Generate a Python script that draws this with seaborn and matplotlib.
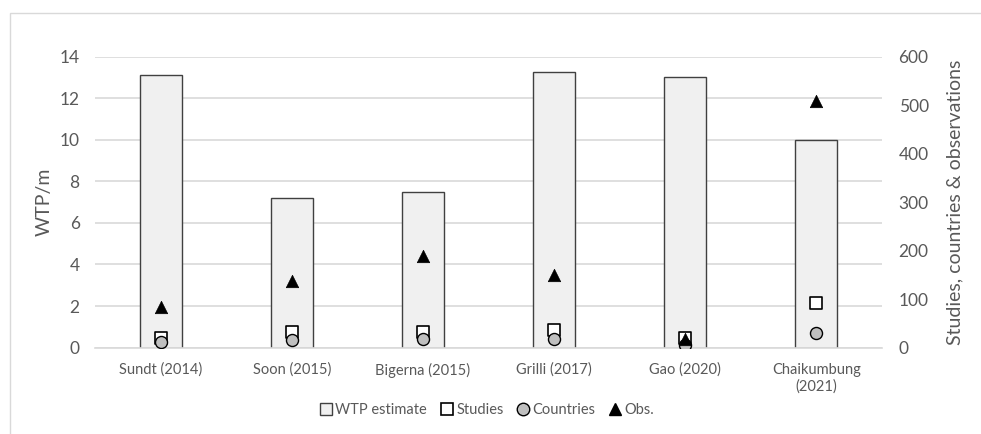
import numpy as np
import pandas as pd
import matplotlib
matplotlib.use("Agg")
import matplotlib.pyplot as plt
from matplotlib.lines import Line2D
from matplotlib.patches import Rectangle
import seaborn as sns

# data
studies_labels = ["Sundt (2014)", "Soon (2015)", "Bigerna (2015)", "Grilli (2017)",
                  "Gao (2020)", "Chaikumbung\n(2021)"]
wtp_estimate = [13.15, 7.2, 7.5, 13.3, 13.05, 10.0]
n_studies = [20, 31, 33, 37, 19, 91]
n_countries = [11, 15, 17, 17, 5, 29]
n_obs = [84, 137, 189, 150, 17, 510]

sns.set_style("white")
plt.rcParams["font.family"] = ["Lato", "DejaVu Sans"]

grey_txt = "#595959"
grid_col = "#d9d9d9"

df = pd.DataFrame({"study": studies_labels, "wtp": wtp_estimate})
pos = np.arange(len(studies_labels))

fig = plt.figure(figsize=(9.81, 4.34), dpi=100)
ax = fig.add_axes([0.0968, 0.1993, 0.8022, 0.6694])

sns.barplot(data=df, x="study", y="wtp", ax=ax, color="#f0f0f0", saturation=1,
            width=0.32, edgecolor="#404040", linewidth=1.0, zorder=2)

ax.set_ylim(0, 14)
ax.set_yticks(range(0, 15, 2))
ax.set_xlim(-0.5, len(studies_labels) - 0.5)
ax.yaxis.grid(True, color=grid_col, linewidth=1.2, zorder=0)
ax.set_axisbelow(True)
for s in ["top", "right", "left"]:
    ax.spines[s].set_visible(False)
ax.spines["bottom"].set_color(grid_col)
ax.spines["bottom"].set_linewidth(1.2)
ax.tick_params(axis="y", length=0, labelsize=12.5, labelcolor=grey_txt, pad=11)
ax.tick_params(axis="x", length=0, labelsize=10.5, labelcolor=grey_txt, pad=11)
ax.set_xlabel("")
ax.set_ylabel("WTP/m", fontsize=14, color=grey_txt, labelpad=5)

ax2 = ax.twinx()
sns.scatterplot(x=pos, y=n_studies, ax=ax2, marker="s", s=80, color="white",
                edgecolor="black", linewidth=1.2, zorder=3)
sns.scatterplot(x=pos, y=n_countries, ax=ax2, marker="o", s=75, color="#bfbfbf",
                edgecolor="black", linewidth=1.0, zorder=4)
sns.scatterplot(x=pos, y=n_obs, ax=ax2, marker="^", s=80, color="black",
                edgecolor="black", linewidth=0.5, zorder=5)
ax2.set_ylim(0, 600)
ax2.set_yticks(range(0, 601, 100))
for s in ["top", "right", "left", "bottom"]:
    ax2.spines[s].set_visible(False)
ax2.tick_params(axis="y", length=0, labelsize=12.5, labelcolor=grey_txt, pad=12)
ax2.set_ylabel("Studies, countries & observations", fontsize=14, color=grey_txt,
               labelpad=13)
ax2.set_xlim(-0.5, len(studies_labels) - 0.5)

handles = [
    Line2D([], [], marker="s", linestyle="none", markersize=9,
           markerfacecolor="#f0f0f0", markeredgecolor="#404040", markeredgewidth=1),
    Line2D([], [], marker="s", linestyle="none", markersize=9,
           markerfacecolor="white", markeredgecolor="black", markeredgewidth=1.2),
    Line2D([], [], marker="o", linestyle="none", markersize=9,
           markerfacecolor="#bfbfbf", markeredgecolor="black", markeredgewidth=1),
    Line2D([], [], marker="^", linestyle="none", markersize=9,
           markerfacecolor="black", markeredgecolor="black"),
]
labels = ["WTP estimate", "Studies", "Countries", "Obs."]
leg = fig.legend(handles, labels, loc="center", bbox_to_anchor=(0.497, 0.055),
                 ncol=4, frameon=False, fontsize=10.5, handlelength=0.7,
                 handletextpad=0.3, columnspacing=1.0)
for t in leg.get_texts():
    t.set_color(grey_txt)

# light chart border as in the source
fig.patches.append(Rectangle((10 / 981, -0.05), 1.0, 1 - 13 / 434 + 0.05,
                             transform=fig.transFigure, fill=False,
                             edgecolor="#d9d9d9", linewidth=1.0))

fig.savefig("out.png", dpi=100)
